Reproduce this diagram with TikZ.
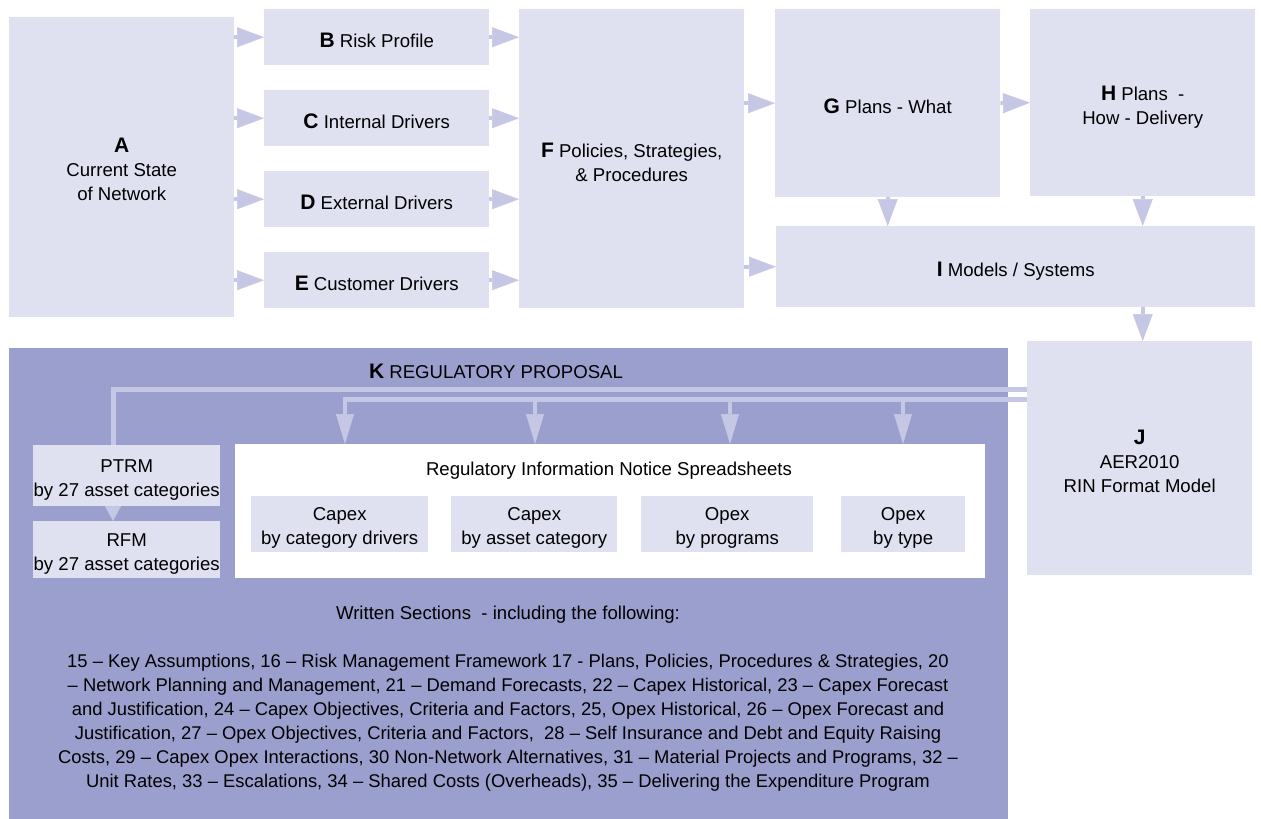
\documentclass[tikz,border=0pt]{standalone}
\usepackage{fontspec}
\setmainfont{Liberation Sans}
\usetikzlibrary{arrows.meta}
\definecolor{boxfill}{RGB}{223,224,240}
\definecolor{flow}{RGB}{198,199,228}
\definecolor{proposal}{RGB}{155,159,205}
\newcommand\lettermark[1]{{\fontsize{21}{24}\selectfont\bfseries #1}}
\tikzset{
  base/.style={inner sep=0pt, align=center, font=\fontsize{18.6}{24}\selectfont, text=black},
  panel/.style={fill=boxfill, anchor=north west, inner sep=0pt},
  % single-line boxes: struts keep the baseline at the same place whatever the letters
  box/.style={base, panel,
    execute at begin node={\rule{0pt}{23pt}},
    execute at end node={\rule[-3pt]{0pt}{3pt}}},
  % multi-line boxes carry their text as a centred label
  caption/.style={base, yshift=-#1},
  flowarrow/.style={draw=flow, line width=4pt, -{Triangle[length=27pt,width=20pt,line width=0.5pt]}},
  busline/.style={draw=flow, line width=5pt},
  drop/.style={draw=flow, line width=4pt, -{Triangle[length=30pt,width=18pt,line width=0.5pt]}},
  smalldrop/.style={draw=flow, line width=3pt, -{Triangle[length=15pt,width=16pt,line width=0.5pt]}},
}
\begin{document}
\begin{tikzpicture}[x=1pt,y=-1pt]
\useasboundingbox (0,0) rectangle (1261,819);

% upper flow
\node[panel, minimum width=225pt, minimum height=300pt,
  label={[caption=2pt]center:{\lettermark{A}\\Current State\\of Network}}] (A) at (9,17) {};
\node[box, minimum width=225pt, minimum height=56pt] (B) at (264,9) {\lettermark{B} Risk Profile};
\node[box, minimum width=225pt, minimum height=56pt] (C) at (264,90) {\lettermark{C} Internal Drivers};
\node[box, minimum width=225pt, minimum height=56pt] (D) at (264,171) {\lettermark{D} External Drivers};
\node[box, minimum width=225pt, minimum height=56pt] (E) at (264,252) {\lettermark{E} Customer Drivers};
\node[panel, minimum width=225pt, minimum height=299pt,
  label={[caption=4pt]center:{\lettermark{F} Policies, Strategies,\\\& Procedures}}] (F) at (519,9) {};
\node[box, minimum width=225pt, minimum height=188pt] (G) at (775,9) {\lettermark{G} Plans - What};
\node[panel, minimum width=225pt, minimum height=187pt,
  label={[caption=5pt]center:{\lettermark{H} Plans \ -\\How - Delivery}}] (H) at (1030,9) {};
\node[box, minimum width=479pt, minimum height=81pt] (I) at (776,226) {\lettermark{I} Models / Systems};

% regulatory proposal panel
\node[anchor=north west, fill=proposal, inner sep=0pt, minimum width=999pt, minimum height=471pt] (K) at (9,348) {};
\node[base] (Ktitle) at (496,371) {\lettermark{K} REGULATORY PROPOSAL};
\node[panel, minimum width=225pt, minimum height=234pt,
  label={[caption=3pt]center:{\lettermark{J}\\AER2010\\RIN Format Model}}] (J) at (1027,341) {};

\node[panel, minimum width=187pt, minimum height=61pt,
  label={[caption=4.5pt]center:{PTRM\\by 27 asset categories}}] (PTRM) at (33,445) {};
\node[panel, minimum width=187pt, minimum height=57pt,
  label={[caption=4.5pt]center:{RFM\\by 27 asset categories}}] (RFM) at (33,521) {};
\node[anchor=north west, fill=white, inner sep=0pt, minimum width=750pt, minimum height=134pt] (RIN) at (235,444) {};
\node[base] (RINtitle) at (609,471) {Regulatory Information Notice Spreadsheets};
\node[panel, minimum width=177pt, minimum height=56pt,
  label={[caption=4pt]center:{Capex\\by category drivers}}] (S1) at (251,496) {};
\node[panel, minimum width=166pt, minimum height=56pt,
  label={[caption=4pt]center:{Capex\\by asset category}}] (S2) at (451,496) {};
\node[panel, minimum width=172pt, minimum height=56pt,
  label={[caption=4pt]center:{Opex\\by programs}}] (S3) at (641,496) {};
\node[panel, minimum width=124pt, minimum height=56pt,
  label={[caption=4pt]center:{Opex\\by type}}] (S4) at (841,496) {};

\node[base] (WStitle) at (508,615) {Written Sections \ - including the following:};
\node[base, font=\fontsize{18.4}{24}\selectfont] (WS) at (508,723) {%
15 -- Key Assumptions, 16 -- Risk Management Framework 17 - Plans, Policies, Procedures \& Strategies, 20\\
-- Network Planning and Management, 21 -- Demand Forecasts, 22 -- Capex Historical, 23 -- Capex Forecast\\
and Justification, 24 -- Capex Objectives, Criteria and Factors, 25, Opex Historical, 26 -- Opex Forecast and\\
Justification, 27 -- Opex Objectives, Criteria and Factors, \ 28 -- Self Insurance and Debt and Equity Raising\\
Costs, 29 -- Capex Opex Interactions, 30 Non-Network Alternatives, 31 -- Material Projects and Programs, 32 --\\
Unit Rates, 33 -- Escalations, 34 -- Shared Costs (Overheads), 35 -- Delivering the Expenditure Program};

% arrows of the upper flow
\foreach \n in {B,C,D,E} {
  \draw[flowarrow] (A.east |- \n.west) -- (\n.west);
  \draw[flowarrow] (\n.east) -- (\n.east -| F.west);
}
\draw[flowarrow] (F.east |- G.west) -- (G.west);
\draw[flowarrow] (G.east) -- (H.west);
\draw[flowarrow] (F.east |- I.west) -- (I.west);
\draw[flowarrow] (G.south) -- (G.south |- I.north);
\draw[flowarrow] (H.south) -- (H.south |- I.north);
\draw[flowarrow] (H.south |- I.south) -- (H.south |- J.north);

% feeds from the RIN format model
\coordinate (busA) at (113,389.5);
\coordinate (busB) at (345,399.5);
\draw[busline] (J.west |- busA) -- (busA) -- (busA |- PTRM.north);
\draw[busline] (J.west |- busB) -- (busB);
\foreach \x in {345,535,730,903} {
  \coordinate (tap) at (\x,399.5);
  \draw[drop] ([yshift=2.5pt]tap) -- (tap |- RIN.north);
}
\coordinate (ptrmfoot) at (113,506);
\draw[smalldrop] (ptrmfoot) -- (ptrmfoot |- RFM.north);
\end{tikzpicture}
\end{document}
